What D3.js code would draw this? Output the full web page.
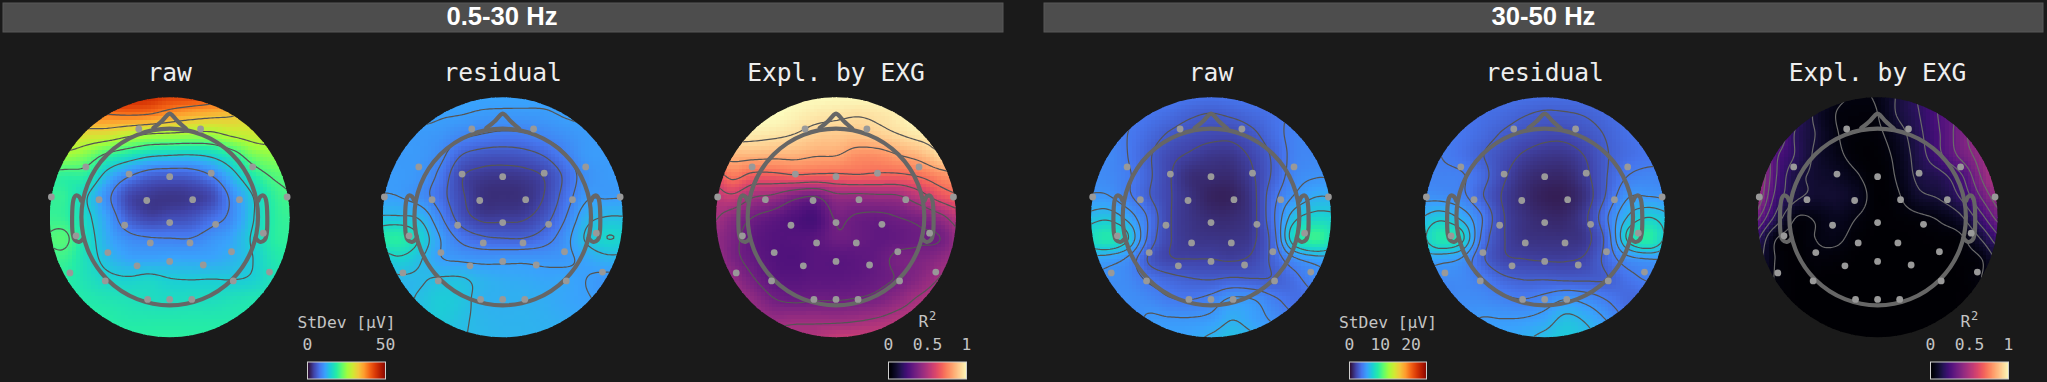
<!DOCTYPE html>
<html><head><meta charset="utf-8">
<script src="https://cdn.jsdelivr.net/npm/d3@7"></script>
<style>html,body{margin:0;padding:0;background:#1a1a1a;overflow:hidden}svg{display:block}</style>
</head><body><svg id="fig" width="2047" height="382"></svg>
<script>
const bandNames=["0.5-30 Hz","30-50 Hz"];
const panelTitles=["raw","residual","Expl. by EXG"];
const stdevTicksA=[0,50], stdevTicksB=[0,10,20], r2Ticks=[0,0.5,1];
const turboStops=["#30123b","#4145ab","#4675ed","#39a2fc","#1bcfd4","#24eca6","#61fc6c","#a4fc3b","#d1e834","#f3c63a","#fe9b2d","#f36315","#d93806","#b11901","#7a0402"];
const sensorX=[-.35,.35,-.95,.94,-.46,0,.47,-1.34,1.33,-.80,-.26,.26,.79,-1.06,1.06,-.51,0,.52,-.22,.23,-.70,.70,-.37,0,.38,-1.13,1.13,-.73,.72,-.25,0,.25];
const sensorY=[-1,-1,-.57,-.57,-.49,-.46,-.50,-.23,-.23,-.20,-.19,-.20,-.20,.21,.18,.09,.06,.08,.29,.29,.40,.39,.55,.50,.54,.63,.62,.72,.72,.93,.93,.93];

// StDev in microvolts / R2 on a 13 x 13 lattice
const rawLow=[
[50,50,49,48,46,45,43,43,42,41,40,40,40],
[38,38,38.5,38.5,39,38.5,36.5,35,34,33,31,29,28],
[31,31,30,29.5,27.5,26,25.5,25,25,27,28,28,27],
[25,25,23,19.3,17,15,14.3,14,15,18,22.5,24,24],
[19,18.5,18,12.5,8.5,6,5.5,5.8,8,12.5,17.5,20.5,21],
[18.5,18.5,14.3,9,4,2.8,2.5,2.8,4,9,14,18.5,20],
[19,18.5,15,10.5,5.5,3.5,4,4.5,6.5,9,13.8,18,19],
[20,20.5,16,11.5,9,8.2,8,8,9.5,11,14.5,18,18.5],
[19,19,16,12.8,11,10.8,11,11,11,12,14,17,18],
[18,18,16.5,15,14.5,15,14.2,14,14.1,14,14.5,16.5,17],
[18,18,17.5,17,16.5,16,15.8,16,16,16.5,17,17,17],
[18.5,18.5,18.5,18,17.5,17.5,17.5,17.5,17.5,17.5,17.5,17.5,17.5],
[19,19,19,19,18.5,18.5,18.5,18.5,18.5,18.5,18.5,18.5,18.5]];
const residualLow=[
[10.9,10.9,10.9,10.9,10.9,10.9,10.9,10.9,10.9,10.9,10.9,10.9,10.9],
[10.9,10.9,10.9,10.6,10.5,10.2,10.1,10.1,10.2,10.6,10.8,10.9,10.9],
[10.4,10.3,10.1,9.8,8.8,8.1,7.7,7.9,8.7,9.5,10.1,10.2,10.2],
[10.2,10.1,10,8.8,5.9,4.9,4.7,5,6,8,10,10.2,10.2],
[10.2,10.2,9.7,7.5,3.8,2.8,2.6,2.8,3.7,6.3,9.3,10.1,10.2],
[10.6,10.4,9.3,6.8,3.9,2.2,2,2.2,3.6,6.8,10,10.2,10.3],
[13,13,12.4,8.5,4.7,3,3,3.2,4.8,8,11.8,12.8,12.8],
[17,18,14.8,10.4,7.5,6.2,5.8,5.8,7,9.5,13,15,14.5],
[13,14.5,13,10.6,10,9.7,9.8,9.9,9.8,10,11,12,12],
[12,12.3,12.5,13,13,12,11.5,11.3,11,11,10.4,9.8,10],
[12,12,13,14,13.4,12,11.8,11.8,11.5,11,10.6,10,10],
[12.5,12.5,13,13.8,13,12.3,12,12,11.8,11.5,11,10.5,10.5],
[13,13,13,13.2,12.8,12.4,12.2,12,12,12,12,12,12]];
const explainedLow=[
[1,1,1,1,1,1,1,1,1,1,1,1,1],
[1,1,1,1,.98,.96,.95,.94,.95,.97,1,1,1],
[.97,.97,.96,.95,.93,.9,.89,.88,.9,.93,.96,.97,.97],
[.84,.85,.85,.84,.84,.82,.815,.77,.77,.81,.85,.92,.93],
[.6,.72,.66,.66,.68,.67,.67,.68,.67,.67,.7,.76,.8],
[.5,.55,.46,.43,.36,.33,.42,.42,.43,.44,.52,.62,.68],
[.47,.4,.33,.29,.25,.23,.34,.32,.31,.33,.36,.42,.52],
[.42,.36,.29,.26,.26,.27,.32,.31,.29,.3,.32,.33,.44],
[.44,.36,.3,.26,.25,.27,.27,.28,.3,.35,.36,.4,.46],
[.48,.42,.34,.28,.27,.28,.28,.29,.31,.34,.39,.46,.52],
[.5,.46,.41,.34,.32,.33,.33,.34,.36,.41,.47,.52,.55],
[.5,.48,.45,.43,.44,.44,.44,.45,.47,.5,.52,.55,.56],
[.5,.5,.5,.5,.48,.5,.55,.56,.56,.56,.56,.56,.56]];
const rawHigh=[
[3.8,3.8,3.8,3.8,3.8,3.7,3.6,3.7,3.8,3.8,3.8,3.8,3.8],
[4,4,3.9,3.6,3.3,2.9,2.7,2.9,3.2,3.5,3.9,4,4],
[4.2,4.2,3.75,3.2,2.6,2.2,2,2,2.5,3.3,4.1,4.2,4.2],
[4.4,4.4,3.75,2.85,2,1.6,1.3,1.3,1.9,2.9,4.1,4.3,4.3],
[4.5,4.4,3.9,2.9,1.8,1,.9,.9,1.6,2.9,4.3,4.7,4.7],
[4.9,4.9,4,2.8,1.8,1.1,.6,.6,1.4,3.4,4.9,5.8,5.8],
[6.2,6.6,5.5,3.6,1.8,1.2,.9,.9,1.4,3.6,6.5,7.4,7.2],
[7.5,8.6,7,3.5,1.8,1.3,1.2,1.2,1.5,3.3,7.8,9.5,8],
[5.5,5.3,4.6,2.6,1.8,1.7,1.7,1.6,1.9,3,4.6,5.3,5.5],
[4.5,4.6,4.4,3.6,3.1,2.8,2.7,2.9,2.8,2.8,3.4,4.3,4.6],
[4.5,4.5,4.6,4.4,3.9,3.8,4.2,5.1,4.9,4,3.4,3.5,3.8],
[4.5,4.5,4.3,5,5,5,5.2,5.9,5.4,4.7,4,3.6,3.6],
[5,5,5,5.2,5.4,5.6,6.2,6.7,6.2,5.6,4.8,4,4]];
const residualHigh=[
[3.5,3.5,3.5,3.5,3.5,3.5,3.4,3.4,3.4,3.5,3.5,3.5,3.5],
[3.6,3.6,3.6,3.4,3.2,2.9,2.7,2.75,2.9,3.2,3.5,3.6,3.6],
[3.9,3.9,3.6,3.2,2.7,2.3,2,2,2.4,2.9,3.4,3.7,3.7],
[4,3.9,3.5,2.85,2.2,1.6,1.3,1.3,1.8,2.75,3.3,3.6,3.7],
[4.2,4.1,4,3.2,1.9,1.1,.8,.8,1.5,2.8,3.9,4.2,4],
[4.7,4.6,4.2,2.9,1.6,.9,.5,.5,1.2,3,4.9,5,4.8],
[6,6.8,5.8,3.9,1.8,1.1,.8,.8,1.6,3.8,6.2,7.2,6.3],
[6.6,8.6,7.6,3.6,1.8,1.2,1.1,1.1,1.4,3.3,7.5,9,6.5],
[5.6,5.4,4.9,3,1.9,1.7,1.6,1.6,1.9,3.2,4.6,5,5],
[4.5,4.4,4.4,3.9,3.1,2.8,2.8,2.7,2.7,2.8,3.5,4,4.2],
[4.2,4.2,4.5,4.5,4.2,4,4.4,5.1,4.7,3.9,3.2,3.2,3.4],
[4.8,4.8,4.8,5.1,5.1,5.2,5.6,6.5,6,5,3.8,3.5,3.5],
[5,5,5,5.3,5.6,6,6.6,7,6.5,5.7,4.5,4,4]];
const explainedHigh=[
[.3,.25,.2,.13,.05,.03,.04,.11,.18,.25,.32,.38,.42],
[.45,.34,.2,.09,.03,.02,.03,.11,.17,.25,.33,.42,.5],
[.5,.36,.17,.1,.035,.015,.02,.07,.155,.24,.35,.44,.52],
[.55,.28,.17,.09,.045,.012,.01,.05,.14,.23,.33,.42,.52],
[.55,.27,.13,.09,.07,.035,.005,.04,.12,.15,.23,.39,.52],
[.5,.24,.12,.09,.09,.06,.005,.025,.085,.11,.18,.32,.45],
[.36,.17,.035,.035,.06,.03,.005,.01,.02,.04,.09,.22,.36],
[.22,.045,.01,.03,.04,.012,.002,.002,.005,.01,.02,.11,.24],
[.15,.035,.005,.02,.015,.003,.001,.001,.001,.002,.01,.03,.14],
[.1,.03,.005,.002,.001,.001,0,0,0,.001,.005,.03,.09],
[.04,.02,.005,.001,0,0,0,0,0,0,.005,.01,.03],
[.02,.01,.005,.001,0,0,0,0,0,0,.002,.005,.01],
[.01,.01,.01,.005,.005,.005,.005,.005,.005,.005,.005,.005,.005]];

const contourLow=[8,14,20,26,32,38], contourResid=[3.5,5.8,8.1,10.4,12.7,15];
const contourR2=[.33,.45,.57,.69,.81,.93];
const contourHighRaw=[1.7,2.7,3.75,4.8,5.85,6.9], contourHighRes=[1.7,2.8,3.9,5,6.1,7.2];
const contourR2High=[.03,.1,.17,.24,.31,.38];

const noseX=[-49,-24,-8,0,8,24,49], noseY=[-268,-288,-306,-311,-306,-288,-266];
const earX=[-266,-272,-282,-289,-291,-285,-272,-258], earY=[-50,-62,-65,-52,50,68,74,62];

const svg=d3.select("#fig");
const defs=svg.append("defs");
const turbo=d3.scaleLinear().domain(turboStops.map((_,i)=>i/(turboStops.length-1))).range(turboStops).interpolate(d3.interpolateRgb).clamp(true);
const magma=d3.scaleSequential(d3.interpolateMagma).domain([0,1]).clamp(true);
const colourLow=v=>turbo(v/50), colourHigh=v=>turbo(v/25), colourR2=v=>magma(v);

const bandBoxes=[[3,1003],[1044,2043]];
bandNames.forEach((name,i)=>{
  svg.append("rect").attr("x",bandBoxes[i][0]).attr("y",3).attr("width",bandBoxes[i][1]-bandBoxes[i][0]).attr("height",29)
    .attr("fill","#4d4d4d").attr("stroke","#585858").attr("stroke-width",1);
  svg.append("text").text(name).attr("x",(bandBoxes[i][0]+bandBoxes[i][1])/2+(i?0:-1)).attr("y",25)
    .attr("text-anchor","middle").attr("font-family","'Liberation Sans',Arial,sans-serif").attr("font-weight",700)
    .attr("font-size",25.6).attr("fill","#fff");
});

function cr(p0,p1,p2,p3,t){return .5*(2*p1+(p2-p0)*t+(2*p0-5*p1+4*p2-p3)*t*t+(3*p1-p0-3*p2+p3)*t*t*t);}
function sample(grid,u,v){
  const n=grid.length-1,cl=k=>Math.max(0,Math.min(n,k));
  const i=Math.min(n-1,Math.floor(v)),j=Math.min(n-1,Math.floor(u)),tv=v-i,tu=u-j;
  const row=r=>cr(grid[cl(r)][cl(j-1)],grid[cl(r)][cl(j)],grid[cl(r)][cl(j+1)],grid[cl(r)][cl(j+2)],tu);
  return cr(row(i-1),row(i),row(i+1),row(i+2),tv);
}
const R=120, HALF=125, HEAD=88.3;
const toLattice=d3.scaleLinear().domain([-HALF,HALF]).range([0,12]);
const headX=d3.scaleLinear().domain([-1,1]).range([-HEAD,HEAD]);
const headY=d3.scaleLinear().domain([-1,1]).range([-HEAD,HEAD]);
const outlineX=d3.scaleLinear().domain([-265,265]).range([-HEAD,HEAD]);
const curve=d3.line().curve(d3.curveCatmullRom.alpha(.5));

const panels=[
 {cx:169.7,g:rawLow,c:colourLow,lv:contourLow,t:0,ln:"#555"},
 {cx:502.7,g:residualLow,c:colourLow,lv:contourResid,t:1,ln:"#555"},
 {cx:836,g:explainedLow,c:colourR2,lv:contourR2,t:2,ln:"#555"},
 {cx:1211,g:rawHigh,c:colourHigh,lv:contourHighRaw,t:0,ln:"#555"},
 {cx:1544.7,g:residualHigh,c:colourHigh,lv:contourHighRes,t:1,ln:"#555"},
 {cx:1877.6,g:explainedHigh,c:colourR2,lv:contourR2High,t:2,ln:"#6a6a6a"}];
const CY=217.3, CELLS=64, cell=2*R/CELLS, STEP=2, NC=Math.round(2*HALF/STEP)+1;

panels.forEach((p,k)=>{
  defs.append("clipPath").attr("id","disc"+k).append("circle").attr("r",R);
  svg.append("text").text(panelTitles[p.t]).attr("x",p.cx).attr("y",81).attr("text-anchor","middle")
    .attr("font-family","'DejaVu Sans Mono',monospace").attr("font-size",24.6).attr("fill","#eeeeee");
  const g=svg.append("g").attr("transform",`translate(${p.cx},${CY})`);
  const clip=g.append("g").attr("clip-path",`url(#disc${k})`);
  const cells=d3.cross(d3.range(CELLS),d3.range(CELLS)).map(([a,b])=>{
    const x=-R+a*cell,y=-R+b*cell;
    return {x,y,v:sample(p.g,toLattice(x+cell/2),toLattice(y+cell/2))};
  }).filter(d=>Math.hypot(d.x+cell/2,d.y+cell/2)<R+cell);
  clip.append("g").attr("shape-rendering","crispEdges").selectAll("rect").data(cells).join("rect")
    .attr("x",d=>d.x).attr("y",d=>d.y).attr("width",cell+.5).attr("height",cell+.5).attr("fill",d=>p.c(d.v));
  const values=new Array(NC*NC);
  for(let b=0;b<NC;b++)for(let a=0;a<NC;a++)values[b*NC+a]=sample(p.g,toLattice(-HALF+a*STEP),toLattice(-HALF+b*STEP));
  const contours=d3.contours().size([NC,NC]).thresholds(p.lv)(values);
  const proj=d3.geoTransform({point(x,y){this.stream.point((x-.5)*STEP-HALF,(y-.5)*STEP-HALF);}});
  clip.append("g").selectAll("path").data(contours).join("path").attr("d",d3.geoPath(proj))
    .attr("fill","none").attr("stroke",p.ln).attr("stroke-width",1.2);
  const hd=g.append("g").attr("fill","none").attr("stroke","#666").attr("stroke-width",4.2).attr("stroke-linecap","round").attr("stroke-linejoin","round");
  hd.append("circle").attr("r",HEAD).attr("cy",-.3);
  hd.append("path").attr("d",curve(noseX.map((x,i)=>[outlineX(x),outlineX(noseY[i])])));
  hd.append("path").attr("d",curve(earX.map((x,i)=>[outlineX(x),outlineX(earY[i])])));
  hd.append("path").attr("d",curve(earX.map((x,i)=>[-outlineX(x),outlineX(earY[i])])));
  g.append("g").selectAll("circle").data(sensorX.map((x,i)=>[x,sensorY[i]])).join("circle")
    .attr("cx",d=>headX(d[0])).attr("cy",d=>headY(d[1])).attr("r",3.4).attr("fill","#999");
});

function colourbar(x0,x1,domain,ticks,colour,label){
  const pos=d3.scaleLinear().domain(domain).range([x0,x1]);
  const w=x1-x0;
  svg.append("g").attr("shape-rendering","crispEdges").selectAll("rect").data(d3.range(Math.round(w))).join("rect")
    .attr("x",i=>x0+i).attr("y",362).attr("width",1.5).attr("height",17)
    .attr("fill",i=>colour(domain[0]+(domain[1]-domain[0])*i/w));
  svg.append("rect").attr("x",x0).attr("y",362).attr("width",w).attr("height",17).attr("fill","none").attr("stroke","#cfcfcf").attr("stroke-width",1);
  const txt=(s,x,y)=>svg.append("text").text(s).attr("x",x).attr("y",y).attr("text-anchor","middle")
    .attr("font-family","'DejaVu Sans Mono',monospace").attr("font-size",16.3).attr("fill","#c4c4c4");
  ticks.forEach(t=>txt(String(t),pos(t),350));
  if(label){txt(label,(x0+x1)/2,327.5);}
  else{
    txt("R",(x0+x1)/2-4,327);
    svg.append("text").text("2").attr("x",(x0+x1)/2+5).attr("y",319.5).attr("text-anchor","middle")
      .attr("font-family","'DejaVu Sans Mono',monospace").attr("font-size",12).attr("fill","#c4c4c4");
  }
}
colourbar(307.5,385.5,[0,50],stdevTicksA,colourLow,"StDev [µV]");
colourbar(888.5,966.5,[0,1],r2Ticks,colourR2,null);
colourbar(1349.5,1426.5,[0,25],stdevTicksB,colourHigh,"StDev [µV]");
colourbar(1930.5,2008.5,[0,1],r2Ticks,colourR2,null);
</script></body></html>
